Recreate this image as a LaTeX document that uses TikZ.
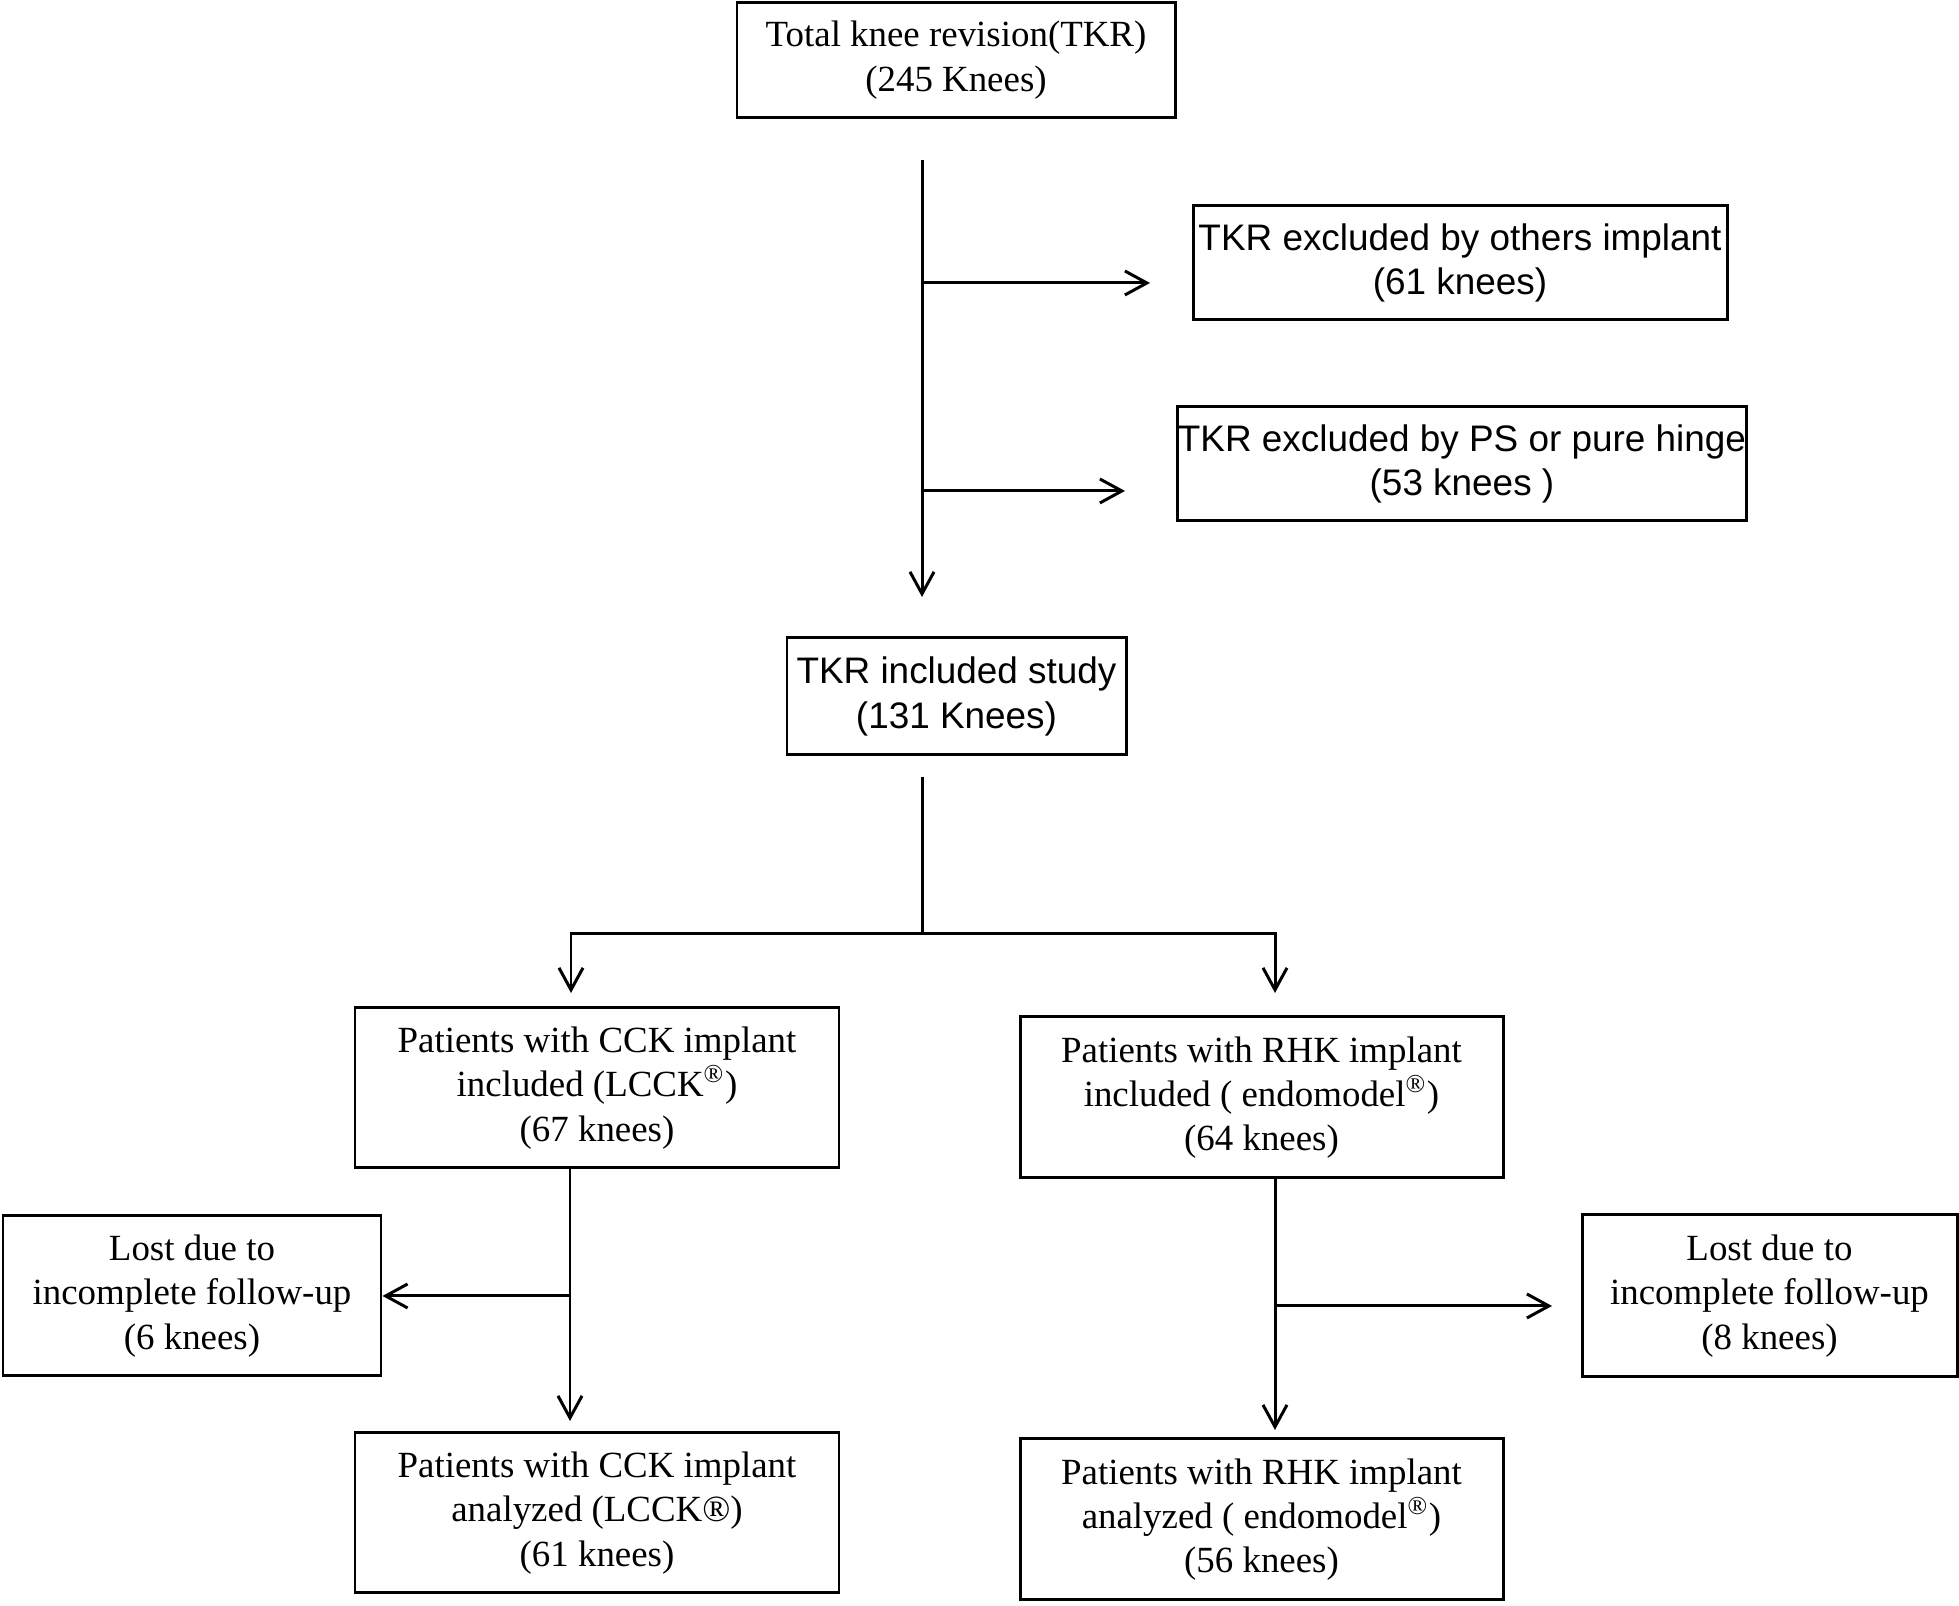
\documentclass[tikz,border=0pt]{standalone}
\usepackage{fontspec}
\setmainfont{Liberation Serif}
\setsansfont{Liberation Sans}
\usetikzlibrary{arrows.meta}

\begin{document}
\begin{tikzpicture}[line width=0.85pt,
    box/.style={draw,rectangle,inner sep=0pt,align=center},
    serifbox/.style={box,font=\fontsize{10.5}{12.6}\selectfont},
    sansbox/.style={box,font=\sffamily\fontsize{10.5}{12.6}\selectfont},
    arr/.style={-{Straight Barb[length=2.2mm,width=2.4mm]}}]
  \useasboundingbox (0,0) rectangle (19.59,16.06);
  % boxes
  \node[serifbox,minimum width=4.38cm,minimum height=1.15cm,
        font=\fontsize{10.5}{12.8}\selectfont] (total) at (9.56 ,15.455)
        {Total knee revision(TKR)\\(245 Knees)};
  \node[sansbox,minimum width=5.34cm,minimum height=1.14cm] (excl1) at (14.60,13.43)
        {TKR excluded by others implant\\(61 knees)};
  \node[sansbox,minimum width=5.62cm,minimum height=1.14cm] (excl2) at (14.62,11.42)
        {TKR excluded by PS or pure hinge\\(53 knees )};
  \node[sansbox,minimum width=3.39cm,minimum height=1.17cm] (incl)  at (9.565,9.095)
        {TKR included study\\(131 Knees)};
  \node[serifbox,minimum width=4.84cm,minimum height=1.60cm] (cck)   at (5.97 ,5.18)
        {Patients with CCK implant\\included (LCCK\textsuperscript{®})\\(67 knees)};
  \node[serifbox,minimum width=4.83cm,minimum height=1.61cm] (rhk)   at (12.615,5.085)
        {Patients with RHK implant\\included ( endomodel\textsuperscript{®})\\(64 knees)};
  \node[serifbox,minimum width=3.78cm,minimum height=1.60cm] (lostL) at (1.92 ,3.10)
        {Lost due to\\incomplete follow-up\\(6 knees)};
  \node[serifbox,minimum width=3.75cm,minimum height=1.62cm] (lostR) at (17.695,3.10)
        {Lost due to\\incomplete follow-up\\(8 knees)};
  \node[serifbox,minimum width=4.84cm,minimum height=1.60cm] (cckA)  at (5.97 ,0.93)
        {Patients with CCK implant\\analyzed (LCCK®)\\(61 knees)};
  \node[serifbox,minimum width=4.83cm,minimum height=1.61cm] (rhkA)  at (12.615,0.865)
        {Patients with RHK implant\\analyzed ( endomodel\textsuperscript{®})\\(56 knees)};
  % junctions
  \coordinate (t1) at (9.22 ,14.46);
  \coordinate (t2) at (9.22 ,10.09);
  \coordinate (b1) at (9.22 ,13.23);
  \coordinate (e1) at (11.50,13.23);
  \coordinate (b2) at (9.22 ,11.15);
  \coordinate (e2) at (11.25,11.15);
  \coordinate (i1) at (9.22 ,8.29);
  \coordinate (i2) at (9.22 ,6.72);
  \coordinate (l1) at (5.71 ,6.72);
  \coordinate (l2) at (5.71 ,6.13);
  \coordinate (r1) at (12.75,6.72);
  \coordinate (r2) at (12.75,6.13);
  \coordinate (c1) at (5.70 ,3.10);
  \coordinate (c2) at (5.70 ,1.85);
  \coordinate (d1) at (12.75,3.00);
  \coordinate (d2) at (12.75,1.76);
  \coordinate (d3) at (15.52,3.00);
  % connectors
  \draw[arr] (t1) -- (t2);
  \draw[arr] (b1) -- (e1);
  \draw[arr] (b2) -- (e2);
  \draw      (i1) -- (i2);
  \draw[arr] (i2) -- (l1) -- (l2);
  \draw[arr] (i2) -- (r1) -- (r2);
  \draw[arr] (cck.south -| c1) -- (c2);
  \draw[arr] (c1) -- (lostL.east);
  \draw[arr] (rhk.south -| d1) -- (d2);
  \draw[arr] (d1) -- (d3);
\end{tikzpicture}
\end{document}
